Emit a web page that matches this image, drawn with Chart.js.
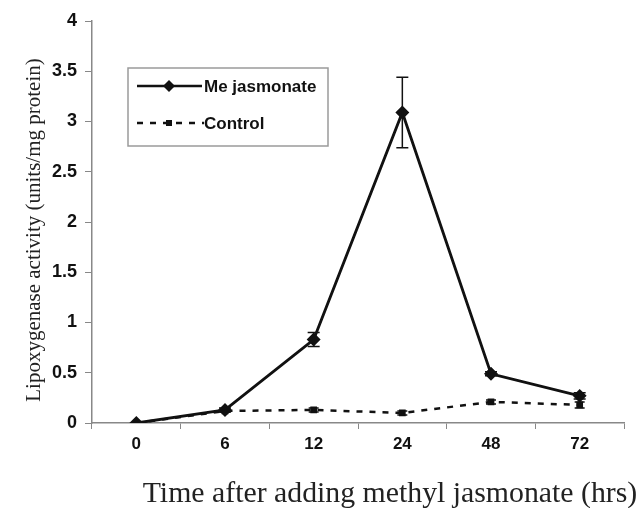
<!DOCTYPE html>
<html>
<head>
<meta charset="utf-8">
<script src="https://cdn.jsdelivr.net/npm/chart.js@4"></script>
<style>
  html, body { margin: 0; padding: 0; background: #fff; }
  #wrap { position: relative; width: 643px; height: 508px; }
</style>
</head>
<body>
<div id="wrap"><canvas id="chart" width="643" height="508"></canvas></div>
<script>
// time points (hrs)
const hours = ['0', '6', '12', '24', '48', '72'];

// lipoxygenase activity, units/mg protein
const meJasmonate = [0, 0.13, 0.83, 3.09, 0.49, 0.27];
const meJasmonateErr = [0, 0.02, 0.07, 0.35, 0.02, 0.03];
const control = [0, 0.12, 0.13, 0.10, 0.21, 0.18];
const controlErr = [0, 0.01, 0.02, 0.02, 0.02, 0.03];

const yTicks = [0, 0.5, 1, 1.5, 2, 2.5, 3, 3.5, 4];

const xTitle = 'Time after adding methyl jasmonate (hrs)';
const yTitle = 'Lipoxygenase activity (units/mg protein)';

const errorBars = {
    id: 'errorBars',
    afterDatasetsDraw(chart) {
        const ctx = chart.ctx;
        const y = chart.scales.y;
        const errs = [meJasmonateErr, controlErr];
        ctx.save();
        ctx.strokeStyle = '#111';
        ctx.lineWidth = 1.5;
        chart.data.datasets.forEach((ds, di) => {
            const meta = chart.getDatasetMeta(di);
            meta.data.forEach((pt, i) => {
                const e = errs[di][i];
                if (!e) return;
                const top = y.getPixelForValue(ds.data[i] + e);
                const bot = y.getPixelForValue(ds.data[i] - e);
                const cap = di === 0 ? 6 : 5;
                ctx.beginPath();
                ctx.moveTo(pt.x, top); ctx.lineTo(pt.x, bot);
                ctx.moveTo(pt.x - cap, top); ctx.lineTo(pt.x + cap, top);
                ctx.moveTo(pt.x - cap, bot); ctx.lineTo(pt.x + cap, bot);
                ctx.stroke();
            });
        });
        ctx.restore();
    }
};

// axis titles drawn by hand so they can sit off-centre like the original
const axisTitles = {
    id: 'axisTitles',
    afterDraw(chart) {
        const ctx = chart.ctx;
        ctx.save();
        ctx.fillStyle = '#222';
        ctx.textAlign = 'center';
        ctx.font = '29.8px "Liberation Serif", "Times New Roman", serif';
        ctx.textBaseline = 'alphabetic';
        ctx.fillText(xTitle, 390, 502);

        ctx.translate(34, 230);
        ctx.rotate(-Math.PI / 2);
        ctx.font = '21px "Liberation Serif", "Times New Roman", serif';
        ctx.textBaseline = 'middle';
        ctx.fillText(yTitle, 0, 0);
        ctx.restore();
    }
};

const boxLegend = {
    id: 'boxLegend',
    afterDraw(chart) {
        const ctx = chart.ctx;
        ctx.save();
        ctx.strokeStyle = '#9a9a9a';
        ctx.lineWidth = 1.5;
        ctx.strokeRect(128, 68, 200, 78);

        // Me jasmonate row
        ctx.strokeStyle = '#111';
        ctx.lineWidth = 2.5;
        ctx.beginPath(); ctx.moveTo(137, 86); ctx.lineTo(202, 86); ctx.stroke();
        ctx.fillStyle = '#111';
        ctx.beginPath();
        ctx.moveTo(169, 80); ctx.lineTo(175, 86); ctx.lineTo(169, 92); ctx.lineTo(163, 86);
        ctx.closePath(); ctx.fill();

        // Control row
        ctx.setLineDash([6, 7]);
        ctx.beginPath(); ctx.moveTo(137, 123); ctx.lineTo(204, 123); ctx.stroke();
        ctx.setLineDash([]);
        ctx.fillRect(166, 120, 6, 6);

        ctx.font = 'bold 17px "Liberation Sans", Arial, sans-serif';
        ctx.textBaseline = 'middle';
        ctx.fillText('Me jasmonate', 204, 87);
        ctx.fillText('Control', 204, 124);
        ctx.restore();
    }
};

new Chart(document.getElementById('chart').getContext('2d'), {
    type: 'line',
    data: {
        labels: hours,
        datasets: [
            {
                label: 'Me jasmonate',
                data: meJasmonate,
                borderColor: '#111',
                backgroundColor: '#111',
                borderWidth: 2.8,
                pointStyle: 'rectRot',
                pointRadius: 5,
                tension: 0
            },
            {
                label: 'Control',
                data: control,
                borderColor: '#111',
                backgroundColor: '#111',
                borderWidth: 2.5,
                borderDash: [6, 7],
                pointStyle: 'rect',
                pointRadius: 3,
                tension: 0
            }
        ]
    },
    options: {
        responsive: false,
        animation: false,
        layout: { padding: { left: 0, top: 21, right: 19, bottom: 0 } },
        scales: {
            x: {
                offset: true,
                grid: {
                    offset: true,
                    drawOnChartArea: false,
                    tickLength: 6,
                    color: '#888'
                },
                border: { color: '#888', width: 1.5 },
                ticks: {
                    color: '#111',
                    padding: 5,
                    font: { family: '"Liberation Sans", Arial, sans-serif', size: 17, weight: 'bold' }
                },
                afterFit: (scale) => { scale.height = 85; }
            },
            y: {
                min: 0,
                max: 4,
                afterBuildTicks: (scale) => { scale.ticks = yTicks.map(v => ({ value: v })); },
                grid: {
                    drawOnChartArea: false,
                    tickLength: 7,
                    color: '#888'
                },
                border: { color: '#888', width: 1.5 },
                ticks: {
                    color: '#111',
                    padding: 8,
                    font: { family: '"Liberation Sans", Arial, sans-serif', size: 18, weight: 'bold' },
                    callback: (value) => String(value)
                },
                afterFit: (scale) => { scale.width = 92; }
            }
        },
        plugins: {
            legend: { display: false },
            tooltip: { enabled: false }
        }
    },
    plugins: [errorBars, axisTitles, boxLegend]
});
</script>
</body>
</html>
